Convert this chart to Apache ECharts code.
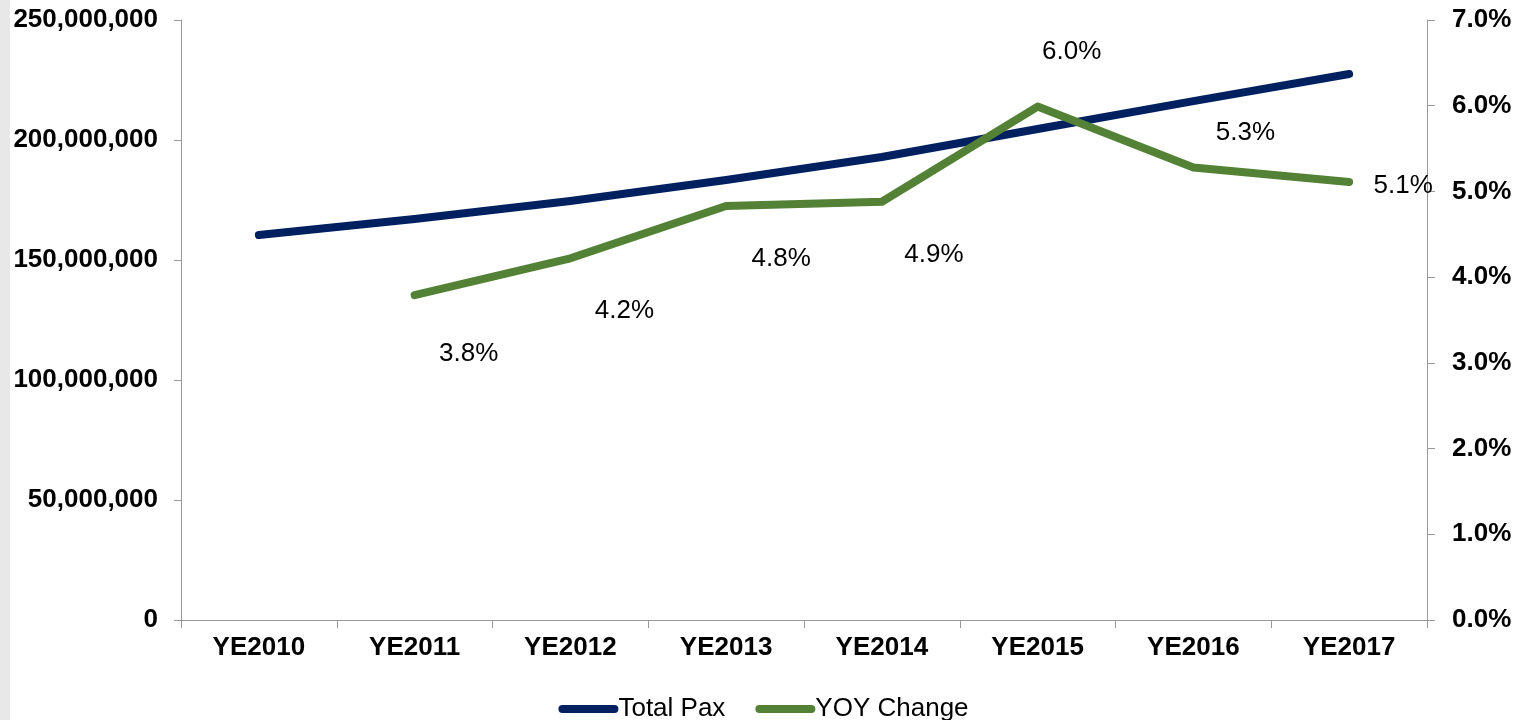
<!DOCTYPE html>
<html>
<head>
<meta charset="utf-8">
<script src="https://cdn.jsdelivr.net/npm/echarts@6/dist/echarts.min.js"></script>
<style>
  html, body { margin: 0; padding: 0; background: #fff; }
  #chart { width: 1527px; height: 720px; }
</style>
</head>
<body>
<div id="chart"></div>
<script>
// data
var years = ["YE2010", "YE2011", "YE2012", "YE2013", "YE2014", "YE2015", "YE2016", "YE2017"];
var totalPax = [160400000, 167100000, 174600000, 183300000, 192900000, 204600000, 216200000, 227500000];
var yoyChange = ["-", 3.79, 4.22, 4.83, 4.88, 5.99, 5.28, 5.11];
var seriesNames = ["Total Pax", "YOY Change"];

// where each YOY label sits relative to its point (style only)
var labelOffsets = [null, [54, 59], [54, 53], [55, 53], [52, 53], [34, -55], [52, -35], [54, 4]];

var font = "Liberation Sans, Arial, sans-serif";
var axisGray = "#999999";

var chart = echarts.init(document.getElementById("chart"));

var yoyData = yoyChange.map(function (v, i) {
  if (v === "-") return v;
  return {
    value: v,
    label: { offset: labelOffsets[i] }
  };
});

chart.setOption({
  animation: false,
  graphic: [{
    type: "rect",
    left: 0,
    top: 0,
    shape: { width: 10, height: 720 },
    style: { fill: "#e8e8e8" }
  }],
  grid: {
    left: 181,
    right: 100,
    top: 20,
    bottom: 100,
    containLabel: false
  },
  legend: {
    bottom: -7,
    left: "center",
    itemWidth: 60,
    itemHeight: 8,
    itemGap: 30,
    icon: "path://M4,0 H56 A4,4 0 0 1 56,8 H4 A4,4 0 0 1 4,0 Z",
    textStyle: { fontFamily: font, fontSize: 26, color: "#000", padding: [0, 0, 0, -5] },
    data: seriesNames
  },
  xAxis: {
    type: "category",
    data: years,
    boundaryGap: true,
    axisLine: { lineStyle: { color: axisGray, width: 1 } },
    axisTick: { show: true, length: 8, lineStyle: { color: axisGray } },
    axisLabel: {
      margin: 15,
      fontFamily: font,
      fontSize: 26,
      fontWeight: "bold",
      color: "#000"
    }
  },
  yAxis: [
    {
      type: "value",
      min: 0,
      max: 250000000,
      interval: 50000000,
      position: "left",
      axisLine: { show: true, lineStyle: { color: axisGray, width: 1 } },
      axisTick: { show: true, length: 7, lineStyle: { color: axisGray } },
      splitLine: { show: false },
      axisLabel: {
        margin: 23,
        fontFamily: font,
        fontSize: 26,
        fontWeight: "bold",
        color: "#000",
        formatter: function (v) {
          return v.toLocaleString("en-US");
        }
      }
    },
    {
      type: "value",
      min: 0,
      max: 7,
      interval: 1,
      position: "right",
      axisLine: { show: true, lineStyle: { color: axisGray, width: 1 } },
      axisTick: { show: true, length: 8, lineStyle: { color: axisGray } },
      splitLine: { show: false },
      axisLabel: {
        margin: 25,
        fontFamily: font,
        fontSize: 26,
        fontWeight: "bold",
        color: "#000",
        formatter: function (v) {
          return v.toFixed(1) + "%";
        }
      }
    }
  ],
  series: [
    {
      name: seriesNames[0],
      type: "line",
      yAxisIndex: 0,
      data: totalPax,
      symbol: "none",
      lineStyle: { color: "#002060", width: 8, cap: "round", join: "round" },
      itemStyle: { color: "#002060" }
    },
    {
      name: seriesNames[1],
      type: "line",
      yAxisIndex: 1,
      data: yoyData,
      symbol: "circle",
      symbolSize: 1,
      showSymbol: true,
      lineStyle: { color: "#538135", width: 8, cap: "round", join: "round" },
      itemStyle: { color: "#538135" },
      label: {
        show: true,
        position: "inside",
        fontFamily: font,
        fontSize: 26,
        color: "#000",
        formatter: function (p) {
          return Number(p.value).toFixed(1) + "%";
        }
      }
    }
  ]
});
</script>
</body>
</html>
